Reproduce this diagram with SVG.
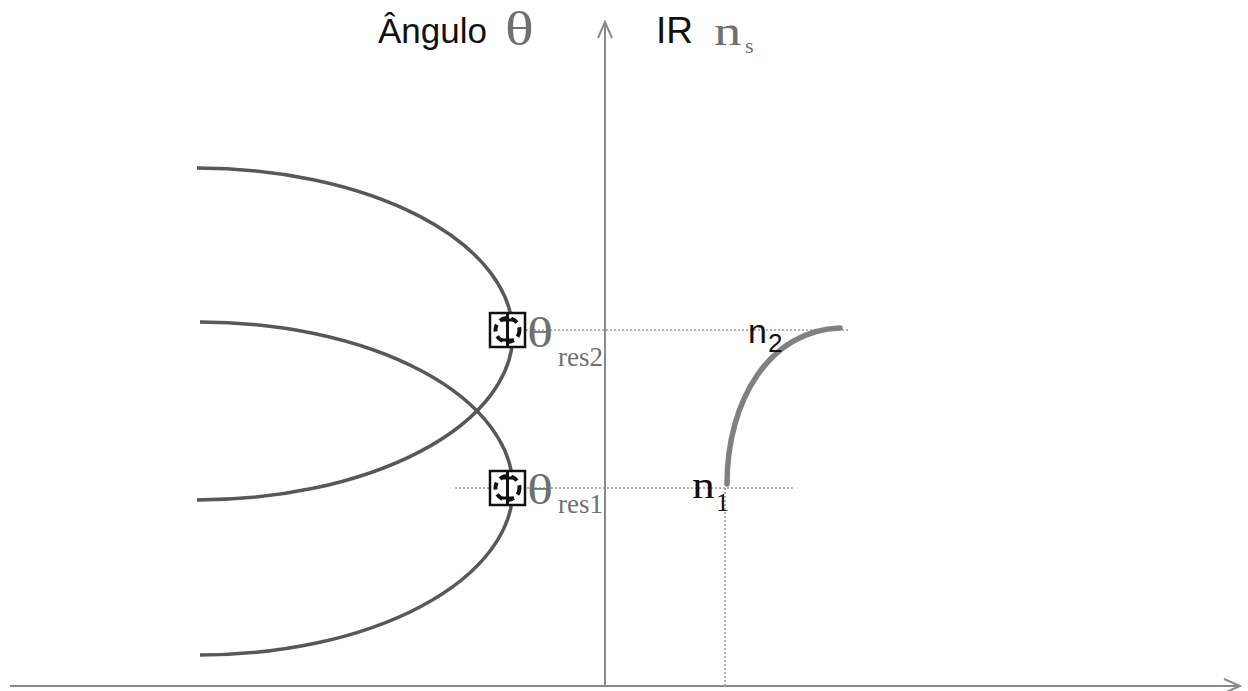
<svg xmlns="http://www.w3.org/2000/svg" width="1248" height="691" viewBox="0 0 1248 691">
<defs>
<style>
.axis{stroke:#8a8a8a;stroke-width:2;fill:none}
.dot{stroke:#999;stroke-width:1.5;stroke-dasharray:2 2;fill:none}
.curve{stroke:#585858;stroke-width:3.5;fill:none}
.ir{stroke:#808080;stroke-width:5.5;fill:none;stroke-linecap:round}
.sans{font-family:"Liberation Sans",Arial,sans-serif;fill:#111}
.serif{font-family:"Liberation Serif","Times New Roman",serif;fill:#707070}
.box{fill:#fff;stroke:#111;stroke-width:2.5}
.ibeam{stroke:#111;stroke-width:3;fill:none}
.ring{fill:none;stroke:#111;stroke-width:4;stroke-dasharray:7 5}
</style>
<marker id="arr" viewBox="0 0 20 20" refX="18" refY="10" markerWidth="20" markerHeight="20" markerUnits="userSpaceOnUse" orient="auto">
<path d="M2,3 L18,10 L2,17" fill="none" stroke="#8a8a8a" stroke-width="2"/>
</marker>
</defs>
<rect width="1248" height="691" fill="#fff"/>
<g id="connectors">
<line class="axis" x1="605" y1="686" x2="605" y2="22" marker-end="url(#arr)"/>
<line class="axis" x1="10" y1="686" x2="1240" y2="686" marker-end="url(#arr)"/>
<line class="dot" x1="490" y1="330" x2="848" y2="330"/>
<line class="dot" x1="455" y1="488" x2="795" y2="488"/>
<line class="dot" x1="725" y1="488" x2="725" y2="686"/>
</g>
<g id="curve-upper"><path class="curve" d="M197,168 A316,166 0 0 1 197,500"/></g>
<g id="curve-lower"><path class="curve" d="M200,322 A313,166.5 0 0 1 200,655"/></g>
<g id="ir-curve"><path class="ir" d="M727,484 C727,400 770,330 840,328"/></g>
<g id="label-angulo"><text class="sans" x="378" y="43" font-size="35">Ângulo</text><text class="serif" x="505" y="45" font-size="48" transform="translate(505 0) scale(1.25 1) translate(-505 0)">θ</text></g>
<g id="label-ir"><text class="sans" x="656" y="43" font-size="37">IR</text><text class="serif" x="714" y="45" font-size="42" transform="translate(714 0) scale(1.3 1) translate(-714 0)">n</text><text class="serif" x="745" y="53" font-size="22">s</text></g>
<g id="box-res2">
<rect class="box" x="490" y="313" width="35" height="34"/>
<path class="ibeam" d="M507.5,312 V348 M501,320 H514 M501,340 H514"/>
<circle class="ring" cx="507.5" cy="330" r="12"/>
</g>
<g id="label-res2"><text class="serif" x="527" y="347" font-size="42" transform="translate(527 0) scale(1.3 1) translate(-527 0)">θ</text><text class="serif" x="558" y="366" font-size="27">res2</text></g>
<g id="box-res1">
<rect class="box" x="490" y="471" width="35" height="34"/>
<path class="ibeam" d="M507.5,470 V506 M501,478 H514 M501,498 H514"/>
<circle class="ring" cx="507.5" cy="488" r="12"/>
</g>
<g id="label-res1"><text class="serif" x="527" y="504" font-size="42" transform="translate(527 0) scale(1.3 1) translate(-527 0)">θ</text><text class="serif" x="558" y="513" font-size="27">res1</text></g>
<g id="label-n2"><text class="sans" x="748" y="343" font-size="34">n</text><text class="sans" x="768" y="352" font-size="26">2</text></g>
<g id="label-n1"><text class="serif" x="692" y="498" font-size="38" style="fill:#111" transform="translate(692 0) scale(1.2 1) translate(-692 0)">n</text><text class="serif" x="716" y="511" font-size="26" style="fill:#111">1</text></g>
</svg>
